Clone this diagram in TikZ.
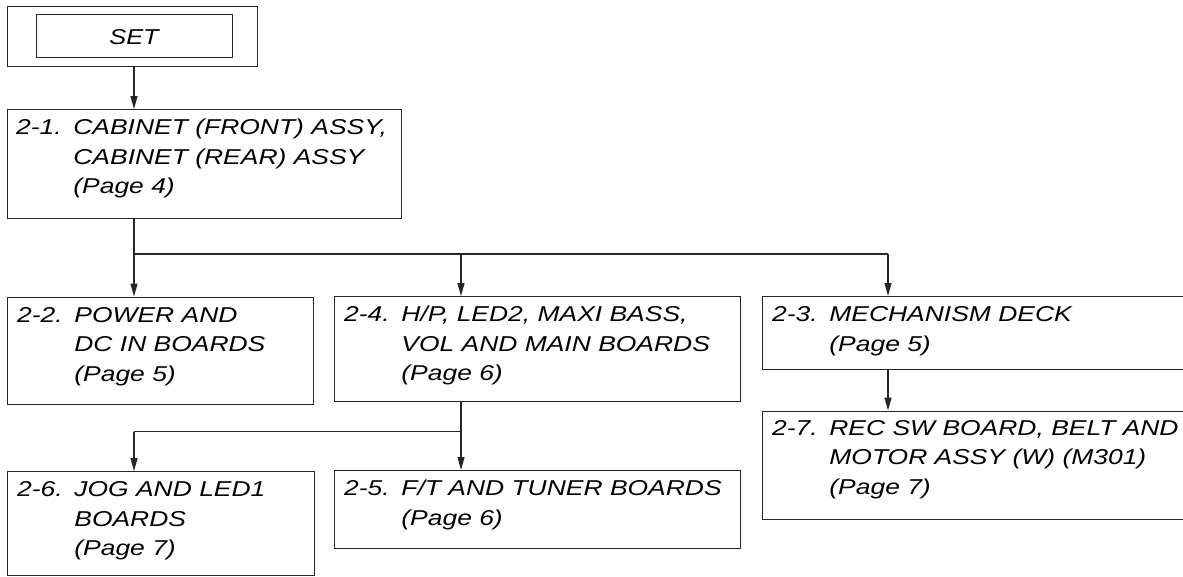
\documentclass[tikz,border=0pt]{standalone}
\usepackage{fontspec}
\setmainfont{Liberation Sans}
\usetikzlibrary{arrows.meta}
\newcommand{\boxtext}[3]{\scalebox{1.23}[1]{\fontsize{21.5}{29.5}\selectfont\itshape\begin{tabular}[t]{@{}p{#1}@{}l@{}}#2&#3\end{tabular}}}
\tikzset{
  frame/.style={draw=black!85, line width=1.3pt, rectangle, inner sep=0pt, anchor=north west},
  txt/.style={inner sep=0pt, anchor=base west, font=\itshape},
  conn/.style={draw=black!85, line width=1.2pt},
  arr/.style={conn, -{Triangle[length=13pt,width=7pt]}}
}
\begin{document}
\begin{tikzpicture}[x=1pt,y=1pt]
\useasboundingbox (0,0) rectangle (1183,-576);
% SET
\node[frame, minimum width=250pt, minimum height=60pt] (set) at (7,-6) {};
\node[frame, minimum width=196pt, minimum height=43pt] (setin) at (36,-14) {};
\node[inner sep=0pt, anchor=base] (settxt) at (134,-44.5) {\scalebox{1.18}[1]{\fontsize{21.5}{30}\selectfont\itshape SET}};
% boxes
\node[frame, minimum width=394pt, minimum height=109pt] (b21) at (7,-109) {};
\node[frame, minimum width=306pt, minimum height=107.5pt] (b22) at (7,-296.5) {};
\node[frame, minimum width=406pt, minimum height=105pt] (b24) at (334,-296) {};
\node[frame, minimum width=450pt, minimum height=73pt] (b23) at (762,-296) {};
\node[frame, minimum width=450pt, minimum height=108pt] (b27) at (762,-410.5) {};
\node[frame, minimum width=307pt, minimum height=103.5pt] (b26) at (7,-471) {};
\node[frame, minimum width=406pt, minimum height=77.5pt] (b25) at (334,-470) {};
% texts
\node[txt] (t21) at ([xshift=9pt,yshift=-25.5pt]b21.north west) {\boxtext{46.5pt}{2-1.}{CABINET (FRONT) ASSY,\\&CABINET (REAR) ASSY\\&(Page 4)}};
\node[txt] (t22) at ([xshift=10pt,yshift=-25.5pt]b22.north west) {\boxtext{46.5pt}{2-2.}{POWER AND\\&DC IN BOARDS\\&(Page 5)}};
\node[txt] (t24) at ([xshift=10pt,yshift=-25.5pt]b24.north west) {\boxtext{46.5pt}{2-4.}{H/P, LED2, MAXI BASS,\\&VOL AND MAIN BOARDS\\&(Page 6)}};
\node[txt] (t23) at ([xshift=10pt,yshift=-25.5pt]b23.north west) {\boxtext{46.5pt}{2-3.}{MECHANISM DECK\\&(Page 5)}};
\node[txt] (t27) at ([xshift=10pt,yshift=-24.5pt]b27.north west) {\boxtext{46.5pt}{2-7.}{REC SW BOARD, BELT AND\\&MOTOR ASSY (W) (M301)\\&(Page 7)}};
\node[txt] (t26) at ([xshift=10pt,yshift=-25.5pt]b26.north west) {\boxtext{46.5pt}{2-6.}{JOG AND LED1\\&BOARDS\\&(Page 7)}};
\node[txt] (t25) at ([xshift=10pt,yshift=-25.5pt]b25.north west) {\boxtext{46.5pt}{2-5.}{F/T AND TUNER BOARDS\\&(Page 6)}};
% junctions
\coordinate (ha) at (134,-254);
\coordinate (hb) at (461,-254);
\coordinate (hc) at (888,-254);
\coordinate (ga) at (134,-431.5);
\coordinate (gb) at (461,-431.5);
% connectors
\draw[arr] (set.south -| ha) -- (b21.north -| ha);
\draw[conn] (b21.south -| ha) -- (ha) -- (hc);
\draw[arr] (ha) -- (b22.north -| ha);
\draw[arr] (hb) -- (b24.north -| hb);
\draw[arr] (hc) -- (b23.north -| hc);
\draw[arr] (b23.south -| hc) -- (b27.north -| hc);
\draw[conn] (b24.south -| gb) -- (gb) -- (ga);
\draw[arr] (ga) -- (b26.north -| ga);
\draw[arr] (gb) -- (b25.north -| gb);
\end{tikzpicture}
\end{document}
